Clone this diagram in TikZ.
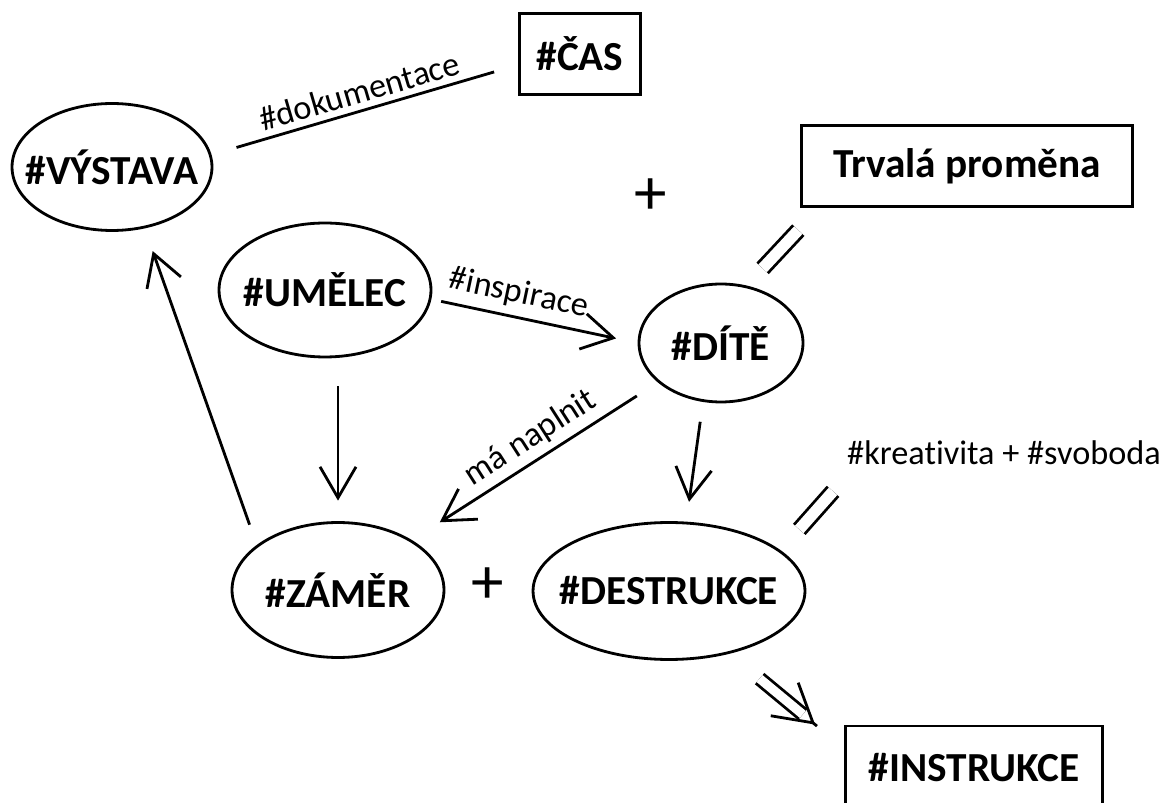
\documentclass[tikz,border=0pt]{standalone}
\usepackage{fontspec}
\setmainfont{Carlito}[Ligatures=NoCommon]
\usetikzlibrary{arrows.meta,shapes.geometric,positioning}

% text of an oval: no width of its own, so the oval keeps its size
\newcommand{\zw}[1]{\makebox[0pt]{#1}}

\begin{document}
\begin{tikzpicture}[
  x=0.02cm, y=-0.02cm,
  line width=1.6pt,
  font=\fontsize{19.5}{23}\selectfont,
  oval/.style={ellipse, draw, inner sep=0pt, font=\fontsize{23.5}{27}\selectfont\bfseries},
  tag/.style={rectangle, draw, inner sep=0pt, font=\fontsize{23.5}{27}\selectfont\bfseries},
  plus/.style={font=\fontsize{37}{40}\selectfont},
  arr/.style={-{Straight Barb[length=0.62cm, width=0.72cm]}},
  eq/.style={double, double distance=6.4pt},
  dbl/.style={double, double distance=5.2pt},
  head/.style={-{Straight Barb[length=0.74cm, width=0.86cm]}}
]
\useasboundingbox (0,0) rectangle (1163,803);

\node[oval, minimum width=4cm, minimum height=2.54cm] (vystava) at (112,167) {\zw{\#VÝSTAVA}};
\node[tag, minimum width=2.42cm, minimum height=1.62cm] (cas) at (580,54) {\#ČAS};
\node[tag, minimum width=6.62cm, minimum height=1.62cm] (trvala) at (967,166) {Trvalá proměna};
\node[plus] (plus1) at (651,197) {+};
\node[oval, minimum width=4.24cm, minimum height=2.68cm] (umelec) at (325,290) {\zw{\#UMĚLEC}};
\node[oval, minimum width=3.28cm, minimum height=2.36cm] (dite) at (721,343) {\zw{\#DÍTĚ}};
\node[oval, minimum width=4.24cm, minimum height=2.7cm] (zamer) at (338,590) {\zw{\#ZÁMĚR}};
\node[plus] (plus2) at (488,586) {+};
\node[oval, minimum width=5.44cm, minimum height=2.74cm] (destrukce) at (669,591) {\zw{\#DESTRUKCE}};
\node (kreat) at (1004,453) {\#kreativita + \#svoboda};
\node[tag, minimum width=5.14cm, minimum height=1.68cm] (instrukce) at (974,768) {\#INSTRUKCE};
\coordinate (imptip) at ([xshift=-0.58cm]instrukce.north west);

\draw[shorten <=0.52cm, shorten >=0.5cm] (vystava.7) -- node[above, sloped, pos=0.5] {\#dokumentace} (cas.190);
\draw[arr, shorten <=0.2cm, shorten >=0.44cm] (umelec.-5) -- node[above=1pt, sloped, pos=0.4] {\#inspirace} (dite.west);
\draw[arr, shorten <=0.56cm, shorten >=0.41cm] (umelec.south -| zamer.north) -- (zamer.north);
\draw[arr, shorten <=0.5cm, shorten >=0.66cm] (dite.212) -- node[above, sloped, pos=0.47] {má naplnit} (zamer.34);
\draw[arr, shorten <=0.4cm, shorten >=0.4cm] (dite.253) -- (destrukce.76);
\draw[arr, shorten <=0.43cm, shorten >=0.48cm] (zamer.151) -- (vystava.-62);

\draw[eq, shorten <=0.47cm, shorten >=0.61cm] (dite.66) -- ([xshift=0.38cm]trvala.south west);
\draw[eq, shorten <=0.56cm, shorten >=0.51cm] (destrukce.20) -- ([xshift=0.2cm]kreat.south west);
\draw[dbl, shorten <=0.78cm, shorten >=0.32cm] (destrukce.-46) -- (imptip);
\draw[head, shorten <=2.27cm] (destrukce.-46) -- (imptip);
\end{tikzpicture}
\end{document}
